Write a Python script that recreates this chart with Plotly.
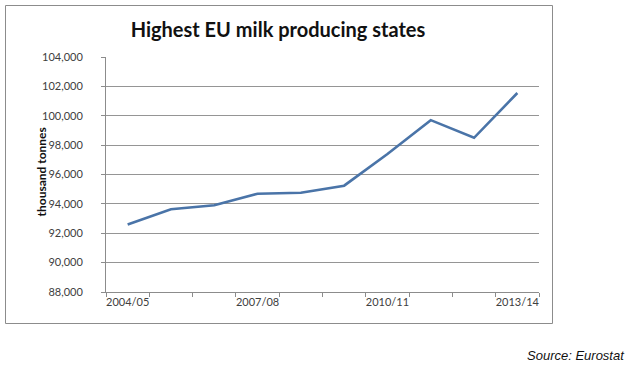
import plotly.graph_objects as go

categories = ["2004/05", "2005/06", "2006/07", "2007/08", "2008/09",
              "2009/10", "2010/11", "2011/12", "2012/13", "2013/14"]
production = [92600, 93630, 93900, 94690, 94760, 95240, 97400, 99700, 98500, 101550]
label_idx = [0, 3, 6, 9]
y_ticks = [88000, 90000, 92000, 94000, 96000, 98000, 100000, 102000, 104000]

W, H = 632, 368
L, R, T, B = 106, 93, 57, 76
pw, ph = W - L - R, H - T - B

x = list(range(len(categories)))

fig = go.Figure()
fig.add_trace(go.Scatter(x=x, y=production, mode="lines",
                         line=dict(color="#4a74a8", width=2.6), showlegend=False))

fig.update_layout(
    width=W, height=H, margin=dict(l=L, r=R, t=T, b=B),
    paper_bgcolor="white", plot_bgcolor="white",
    font=dict(family="Lato, 'Open Sans', sans-serif", size=11, color="#404040"),
    title=dict(text="<b>Highest EU milk producing states</b>",
               font=dict(family="Lato, sans-serif", size=20, color="#111111"),
               x=278 / W, xanchor="center", y=1 - 30 / H, yanchor="middle"),
    xaxis=dict(range=[-0.5, len(categories) - 0.5],
               tickvals=[x[i] for i in label_idx],
               ticktext=[categories[i] for i in label_idx],
               ticks="", showgrid=False, zeroline=False,
               showline=True, linecolor="#8c8c8c", linewidth=1,
               minor=dict(tickvals=[i - 0.5 for i in range(len(categories) + 1)],
                          ticks="outside", ticklen=4, tickcolor="#8c8c8c", showgrid=False)),
    yaxis=dict(range=[88000, 104000], tickvals=y_ticks, tickformat=",",
               ticks="outside", ticklen=4, tickcolor="#8c8c8c",
               showgrid=True, gridcolor="#959595", gridwidth=1, zeroline=False,
               showline=True, linecolor="#8c8c8c", linewidth=1,
               ticklabelstandoff=16),
)

fig.add_annotation(text="<b>thousand tonnes</b>", textangle=-90,
                   xref="paper", yref="paper", x=(31 - L) / pw, y=(H - B - 172) / ph,
                   showarrow=False, font=dict(size=12, color="#111111"))

fig.add_annotation(text="<i>Source: Eurostat</i>", xref="paper", yref="paper",
                   x=(627 - L) / pw, y=(H - B - 355) / ph, xanchor="right", yanchor="middle",
                   showarrow=False, font=dict(family="Liberation Sans, Arial", size=13, color="#111111"))

fig.add_shape(type="rect", xref="paper", yref="paper",
              x0=(5.5 - L) / pw, x1=(552.5 - L) / pw,
              y0=(H - B - 323.5) / ph, y1=(H - B - 5.5) / ph,
              line=dict(color="#8c8c8c", width=1), fillcolor="rgba(0,0,0,0)", layer="below")

fig.write_html("out.html", config={"displayModeBar": False},
               post_script="document.body.style.margin='0';document.body.style.overflow='hidden';")
